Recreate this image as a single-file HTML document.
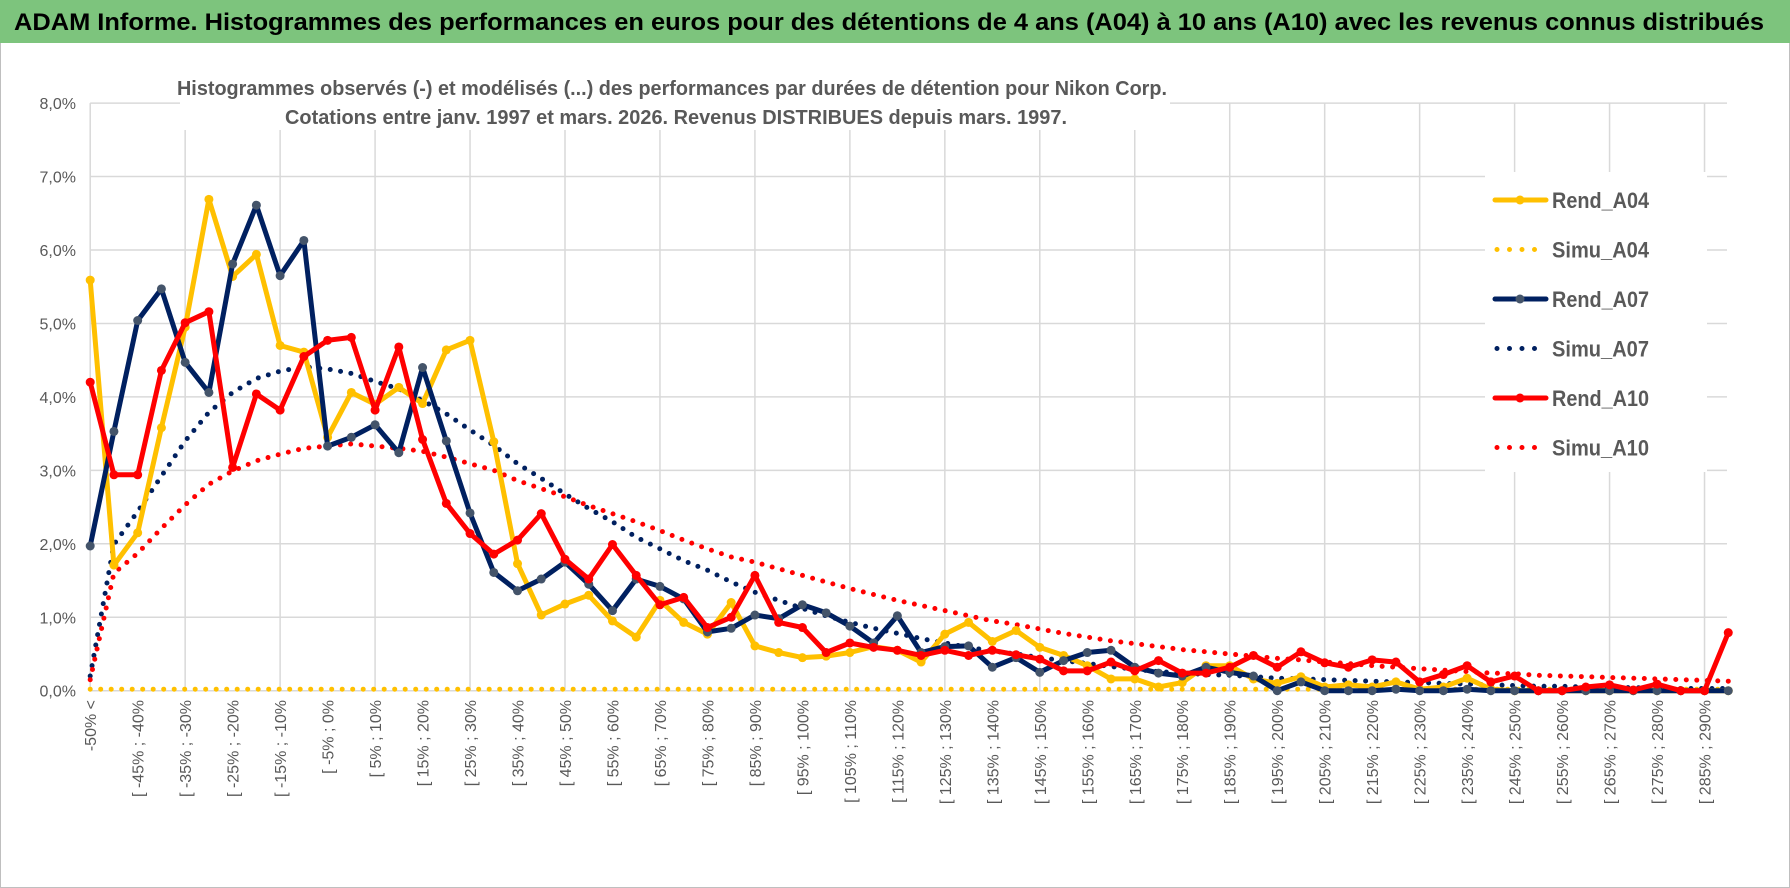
<!DOCTYPE html>
<html><head><meta charset="utf-8"><style>
html,body{margin:0;padding:0;background:#fff;}
svg{display:block;font-family:"Liberation Sans Narrow","Liberation Sans",sans-serif;}
</style></head><body>
<svg id="chart" width="1790" height="888" viewBox="0 0 1790 888" xmlns="http://www.w3.org/2000/svg">
<rect x="0.5" y="0.5" width="1789" height="887" fill="#fff" stroke="#bfbfbf"/>
<rect x="0" y="0" width="1790" height="43" fill="#7dc47d"/>
<text x="14" y="30" font-size="24" font-weight="bold" fill="#000" textLength="1750" lengthAdjust="spacingAndGlyphs">ADAM Informe. Histogrammes des performances en euros pour des détentions de 4 ans (A04) à 10 ans (A10) avec les revenus connus distribués</text>
<g id="grid"></g>
<g id="yaxis"></g>
<g id="xaxis"></g>
<g id="series"></g>
<rect x="180" y="68" width="990" height="62" fill="#fff"/>
<text x="177" y="95" font-size="20" font-weight="bold" fill="#595959" textLength="990" lengthAdjust="spacingAndGlyphs">Histogrammes observés (-) et modélisés (...) des performances par durées de détention pour Nikon Corp.</text>
<text x="285" y="124" font-size="20" font-weight="bold" fill="#595959" textLength="782" lengthAdjust="spacingAndGlyphs">Cotations entre janv. 1997 et mars. 2026. Revenus DISTRIBUES depuis mars. 1997.</text>
<g id="legend"><rect x="1485" y="172" width="222" height="300" fill="#fff"/></g>
</svg>
<script>
const categories = (function(){const a=["-50% <"];for(let k=1;k<70;k++){const lo=-50+5*(k-1);a.push("[ "+lo+"% ; "+(lo+5)+"%");}return a;})();
const yTicks = [0,1,2,3,4,5,6,7,8];
const yTickLabels = ["0,0%","1,0%","2,0%","3,0%","4,0%","5,0%","6,0%","7,0%","8,0%"];
const rendA04 = [5.59,1.71,2.15,3.58,4.95,6.69,5.64,5.94,4.70,4.61,3.45,4.06,3.90,4.13,3.91,4.64,4.77,3.39,1.73,1.03,1.18,1.30,0.95,0.73,1.23,0.93,0.77,1.20,0.61,0.52,0.45,0.47,0.52,0.60,0.55,0.39,0.77,0.93,0.67,0.82,0.59,0.48,0.34,0.16,0.16,0.05,0.11,0.34,0.34,0.16,0.10,0.19,0.05,0.08,0.05,0.12,0.02,0.05,0.17,0.02,0,0,0,0,0,0,0,0,0,0];
const simuA04 = Array(70).fill(0.02);
const rendA07 = [1.97,3.53,5.04,5.47,4.47,4.06,5.81,6.61,5.65,6.13,3.33,3.45,3.62,3.24,4.40,3.40,2.42,1.61,1.36,1.52,1.75,1.45,1.09,1.52,1.42,1.25,0.80,0.85,1.03,0.98,1.17,1.06,0.88,0.65,1.02,0.52,0.60,0.61,0.32,0.45,0.25,0.41,0.52,0.55,0.32,0.24,0.20,0.32,0.25,0.20,0,0.12,0,0,0,0.02,0,0,0.02,0,0,0,0,0,0,0,0,0,0,0];
const simuA07 = [0.2,1.99,2.44,2.92,3.40,3.79,4.06,4.25,4.35,4.41,4.38,4.32,4.21,4.11,3.95,3.77,3.55,3.34,3.09,2.89,2.68,2.48,2.30,2.09,1.93,1.77,1.64,1.48,1.34,1.23,1.12,1.02,0.93,0.85,0.78,0.71,0.65,0.59,0.54,0.50,0.45,0.41,0.37,0.33,0.29,0.26,0.24,0.22,0.21,0.19,0.17,0.16,0.15,0.14,0.13,0.12,0.11,0.10,0.09,0.08,0.07,0.06,0.06,0.05,0.05,0.04,0.04,0.03,0.03,0.03];
const rendA10 = [4.20,2.94,2.94,4.36,5.01,5.16,3.04,4.04,3.82,4.55,4.77,4.81,3.82,4.68,3.42,2.55,2.14,1.86,2.05,2.41,1.79,1.52,1.99,1.57,1.17,1.27,0.86,1.00,1.57,0.93,0.86,0.52,0.65,0.59,0.55,0.48,0.55,0.48,0.55,0.49,0.43,0.27,0.27,0.39,0.27,0.41,0.24,0.24,0.32,0.48,0.32,0.53,0.38,0.32,0.42,0.39,0.12,0.22,0.34,0.12,0.20,0,0,0.05,0.08,0.01,0.09,0,0,0.79];
const simuA10 = [0.15,1.60,1.87,2.21,2.53,2.81,2.99,3.13,3.22,3.30,3.33,3.36,3.33,3.30,3.26,3.18,3.09,3.00,2.86,2.75,2.64,2.52,2.41,2.30,2.18,2.05,1.93,1.82,1.75,1.66,1.57,1.48,1.39,1.31,1.23,1.16,1.09,1.02,0.95,0.90,0.84,0.78,0.73,0.68,0.64,0.60,0.56,0.53,0.50,0.47,0.44,0.42,0.39,0.37,0.34,0.32,0.30,0.28,0.26,0.24,0.23,0.21,0.20,0.19,0.18,0.17,0.16,0.15,0.14,0.13];
const seriesNames = ["Rend_A04","Simu_A04","Rend_A07","Simu_A07","Rend_A10","Simu_A10"];

const NS="http://www.w3.org/2000/svg";
const X0=90.2, STEP=23.74, Y0=690.7, PER=73.45, XR=1727;
function xScale(i){return X0+STEP*i;}
function yScale(v){return Y0-v*PER;}
function mk(tag,attrs,parent){const e=document.createElementNS(NS,tag);for(const k in attrs)e.setAttribute(k,attrs[k]);parent.appendChild(e);return e;}

const grid=document.getElementById('grid');
yTicks.forEach(function(t,i){
  const l=mk('line',{x1:X0,x2:XR,y1:yScale(t),y2:yScale(t),stroke:'#d9d9d9','stroke-width':1.5},grid);
  
  
  const tx=mk('text',{x:76,y:yScale(t)+6,'text-anchor':'end','font-size':16,fill:'#595959'},document.getElementById('yaxis'));
  tx.textContent=yTickLabels[i];
  
  
});
for(let i=0;i<categories.length;i+=4){
  const l=mk('line',{x1:xScale(i),x2:xScale(i),y1:yScale(8),y2:Y0,stroke:'#d9d9d9','stroke-width':1.5},grid);
  
  
}
const xa=document.getElementById('xaxis');
categories.forEach(function(c,i){
  if(i%2) return;
  const t=mk('text',{transform:'translate('+(xScale(i)+6)+',700) rotate(-90)','text-anchor':'end','font-size':16,fill:'#595959'},xa);
  t.textContent=c;
  
  
});

const ser=document.getElementById('series');
function pts(arr){return arr.map(function(v,i){return xScale(i).toFixed(1)+','+yScale(v).toFixed(1);}).join(' ');}
function dotted(arr,color,name){
  const p=mk('polyline',{points:pts(arr),fill:'none',stroke:color,'stroke-width':5,'stroke-linecap':'round','stroke-dasharray':'0 10.5'},ser);
  
  
}
function solid(arr,color,mcolor,name){
  const g=mk('g',{},ser);
  
  
  mk('polyline',{points:pts(arr),fill:'none',stroke:color,'stroke-width':5,'stroke-linejoin':'round'},g);
  arr.forEach(function(v,i){
    const c=mk('circle',{cx:xScale(i),cy:yScale(v),r:4.5,fill:mcolor},g);
    
    
  });
}
dotted(simuA04,'#ffc000','simu-a04-line');
dotted(simuA07,'#002060','simu-a07-line');
dotted(simuA10,'#ff0000','simu-a10-line');
solid(rendA04,'#ffc000','#ffc000','rend-a04-line');
solid(rendA07,'#002060','#44546a','rend-a07-line');
solid(rendA10,'#ff0000','#ff0000','rend-a10-line');

const lg=document.getElementById('legend');
const lcolors=['#ffc000','#ffc000','#002060','#002060','#ff0000','#ff0000'];
const lmark=['#ffc000',null,'#44546a',null,'#ff0000',null];
seriesNames.forEach(function(n,i){
  const y=200+49.5*i;
  const g=mk('g',{},lg);
  
  
  if(i%2===0){
    mk('line',{x1:1495,x2:1546,y1:y,y2:y,stroke:lcolors[i],'stroke-width':5,'stroke-linecap':'round'},g);
    mk('circle',{cx:1520,cy:y,r:4.5,fill:lmark[i]},g);
  } else {
    mk('line',{x1:1497,x2:1547,y1:y,y2:y,stroke:lcolors[i],'stroke-width':5,'stroke-linecap':'round','stroke-dasharray':'0 12.5'},g);
  }
  const t=mk('text',{x:1552,y:y+8,'font-size':22,'font-weight':'bold',fill:'#595959',textLength:97,lengthAdjust:'spacingAndGlyphs'},g);
  t.textContent=n;
});
</script>
</body></html>
